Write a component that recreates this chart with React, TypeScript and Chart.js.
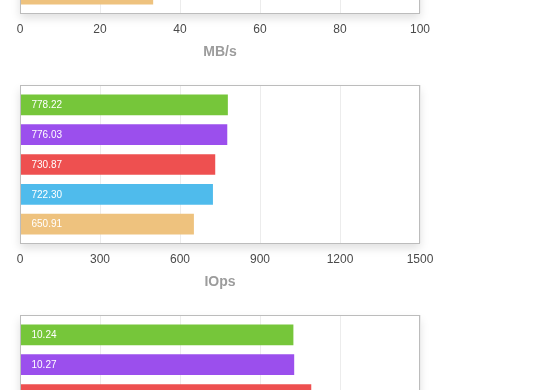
import { useEffect, useRef } from "react";
import { Chart, registerables } from "chart.js";

Chart.register(...registerables);

// ---- data ----
const drives = ["Drive A", "Drive B", "Drive C", "Drive D", "Drive E"];
const barColors = ["#76c63a", "#9b4fed", "#ee5050", "#4fbbec", "#eec27e"];

const mbpsValues = [39.71, 39.58, 37.28, 36.84, 33.21];
const iopsValues = [778.22, 776.03, 730.87, 722.3, 650.91];
const latencyValues = [10.24, 10.27, 10.91, 11.07, 12.29];

const mbpsTicks = [0, 20, 40, 60, 80, 100];
const iopsTicks = [0, 300, 600, 900, 1200, 1500];
const latencyTicks = [0, 3, 6, 9, 12, 15];

const mbpsTitle = "MB/s";
const iopsTitle = "IOps";
const latencyTitle = "ms";

const FONT = "'Liberation Sans', Helvetica, Arial, sans-serif";

const boxPlugin = {
  id: "boxFrame",
  beforeDraw(chart: any) {
    const { ctx, chartArea } = chart;
    const { left, top, right, bottom } = chartArea;
    ctx.save();
    ctx.shadowColor = "rgba(0,0,0,0.13)";
    ctx.shadowBlur = 9;
    ctx.shadowOffsetY = 5;
    ctx.fillStyle = "#ffffff";
    ctx.fillRect(left, top, right - left, bottom - top);
    ctx.restore();
  },
  afterDatasetsDraw(chart: any) {
    const { ctx, chartArea } = chart;
    const l = Math.round(chartArea.left) + 0.5;
    const t = Math.round(chartArea.top) + 0.5;
    const r = Math.round(chartArea.right) - 0.5;
    const b = Math.round(chartArea.bottom) + 0.5;
    ctx.save();
    ctx.strokeStyle = "#bcbcbc";
    ctx.lineWidth = 1;
    ctx.strokeRect(l, t, r - l, b - t);
    ctx.restore();
  },
};

const valueLabelPlugin = {
  id: "valueLabels",
  afterDatasetsDraw(chart: any) {
    const { ctx } = chart;
    const meta = chart.getDatasetMeta(0);
    const ds = chart.data.datasets[0];
    ctx.save();
    ctx.font = `10px ${FONT}`;
    ctx.fillStyle = "#ffffff";
    ctx.textAlign = "left";
    ctx.textBaseline = "middle";
    meta.data.forEach((el: any, i: number) => {
      const v = ds.data[i].x as number;
      ctx.fillText(v.toFixed(2), el.base + 11, el.y + 0.5);
    });
    ctx.restore();
  },
};

function BarPanel({
  values,
  ticks,
  title,
  top,
}: {
  values: number[];
  ticks: number[];
  title: string;
  top: number;
}) {
  const ref = useRef<HTMLCanvasElement>(null);
  useEffect(() => {
    const chart = new Chart(ref.current as HTMLCanvasElement, {
      type: "bar",
      data: {
        labels: drives,
        datasets: [
          {
            data: values.map((v, i) => ({ x: v, y: i })) as any,
            backgroundColor: barColors,
            barThickness: 20,
            borderWidth: 0,
          },
        ],
      },
      options: {
        indexAxis: "y",
        animation: false,
        responsive: true,
        maintainAspectRatio: false,
        layout: { padding: { top: 20, left: 20, right: 140, bottom: 2.6 } },
        plugins: {
          legend: { display: false },
          tooltip: { enabled: false },
        },
        scales: {
          x: {
            type: "linear",
            min: ticks[0],
            max: ticks[ticks.length - 1],
            afterBuildTicks: (s: any) => {
              s.ticks = ticks.map((v) => ({ value: v }));
            },
            grid: { color: "#ececec", drawTicks: false, lineWidth: 1 },
            border: { display: false },
            ticks: {
              padding: 9,
              color: "#4a4a4a",
              font: { family: FONT, size: 12 },
              callback: (v: any) => String(v),
            },
            title: {
              display: true,
              text: title,
              color: "#9c9c9c",
              font: { family: FONT, size: 14, weight: "bold", lineHeight: 1 },
              padding: { top: 0, bottom: 3 },
            },
          },
          y: {
            type: "linear",
            display: false,
            offset: false,
            reverse: true,
            min: -0.6667,
            max: 4.6333,
          },
        },
      } as any,
      plugins: [boxPlugin, valueLabelPlugin],
    });
    return () => chart.destroy();
  }, []);
  return (
    <div style={{ position: "absolute", left: 0, top, width: 560, height: 230 }}>
      <canvas ref={ref} />
    </div>
  );
}

export default function App() {
  return (
    <div
      style={{
        position: "fixed",
        left: 0,
        top: 0,
        width: 560,
        height: 390,
        overflow: "hidden",
        background: "#ffffff",
      }}
    >
      <BarPanel values={mbpsValues} ticks={mbpsTicks} title={mbpsTitle} top={-165} />
      <BarPanel values={iopsValues} ticks={iopsTicks} title={iopsTitle} top={65} />
      <BarPanel values={latencyValues} ticks={latencyTicks} title={latencyTitle} top={295} />
    </div>
  );
}
